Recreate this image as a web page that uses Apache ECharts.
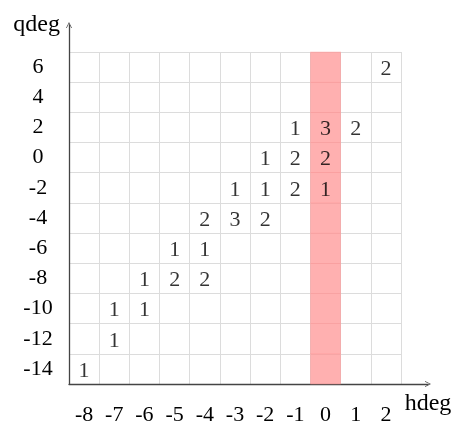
<!DOCTYPE html>
<html>
<head>
<meta charset="utf-8">
<script src="https://cdn.jsdelivr.net/npm/echarts@6/dist/echarts.min.js"></script>
<style>html,body{margin:0;padding:0;background:#fff}#c{width:460px;height:427px}</style>
</head>
<body>
<div id="c"></div>
<script>
var xCategories = ['-8','-7','-6','-5','-4','-3','-2','-1','0','1','2'];
var yCategories = ['-14','-12','-10','-8','-6','-4','-2','0','2','4','6'];
// [hdeg, qdeg, count]
var cellCounts = [
  ['2','6',2],
  ['-1','2',1],['0','2',3],['1','2',2],
  ['-2','0',1],['-1','0',2],['0','0',2],
  ['-3','-2',1],['-2','-2',1],['-1','-2',2],['0','-2',1],
  ['-4','-4',2],['-3','-4',3],['-2','-4',2],
  ['-5','-6',1],['-4','-6',1],
  ['-6','-8',1],['-5','-8',2],['-4','-8',2],
  ['-7','-10',1],['-6','-10',1],
  ['-7','-12',1],
  ['-8','-14',1]
];
var highlightColumn = '0';
var xName = 'hdeg';
var yName = 'qdeg';

var FONT = 'Liberation Serif';
var FS = 22;
var TXT = '#000';
var ARROW = 'path://M0,10 L5,0 L10,10 L8.8,10 L5,2.4 L1.2,10 Z';
var highlightCells = yCategories.map(function (y) { return [highlightColumn, y, 1]; });

var chart = echarts.init(document.getElementById('c'));
chart.setOption({
  animation: false,
  textStyle: { fontFamily: FONT },
  grid: [
    { left: 69, top: 52, right: 59, bottom: 43, containLabel: false },
    { left: 69, top: 25, right: 32, bottom: 43, containLabel: false }
  ],
  xAxis: [
    {
      gridIndex: 0, type: 'category', data: xCategories, boundaryGap: true,
      axisLine: { show: false }, axisTick: { show: false },
      axisLabel: { fontFamily: FONT, fontSize: FS, color: TXT, margin: 31, verticalAlign: 'middle' },
      splitLine: { show: true, lineStyle: { color: '#dcdcdc', width: 1 } }
    },
    {
      gridIndex: 1, type: 'value', min: 0, max: 1,
      axisLine: { show: true, lineStyle: { color: '#444', width: 1.3 },
        symbol: ['none', ARROW], symbolSize: [7, 6] },
      axisTick: { show: false }, axisLabel: { show: false }, splitLine: { show: false },
      name: xName, nameLocation: 'end', nameGap: 0,
      nameTextStyle: { fontFamily: FONT, fontSize: 24, color: TXT, align: 'center', verticalAlign: 'top', padding: [8, 0, 0, 0] }
    }
  ],
  yAxis: [
    {
      gridIndex: 0, type: 'category', data: yCategories, boundaryGap: true,
      axisLine: { show: false }, axisTick: { show: false },
      axisLabel: { fontFamily: FONT, fontSize: FS, color: TXT, margin: 31, align: 'center', padding: [6, 0, 0, 0] },
      splitLine: { show: true, lineStyle: { color: '#dcdcdc', width: 1 } }
    },
    {
      gridIndex: 1, type: 'value', min: 0, max: 1,
      axisLine: { show: true, lineStyle: { color: '#444', width: 1.3 },
        symbol: ['none', ARROW], symbolSize: [7, 6] },
      axisTick: { show: false }, axisLabel: { show: false }, splitLine: { show: false },
      name: yName, nameLocation: 'end', nameGap: 0,
      nameTextStyle: { fontFamily: FONT, fontSize: 24, color: TXT, align: 'right', verticalAlign: 'middle', padding: [0, 9, 0, 0] }
    }
  ],
  series: [
    {
      type: 'heatmap', xAxisIndex: 0, yAxisIndex: 0,
      data: highlightCells,
      itemStyle: { color: 'rgba(255,150,150,0.75)', borderWidth: 0 },
      label: { show: false },
      emphasis: { disabled: true },
      z: 1
    },
    {
      type: 'scatter', xAxisIndex: 0, yAxisIndex: 0,
      data: cellCounts,
      symbolSize: 1,
      itemStyle: { color: 'rgba(0,0,0,0)' },
      label: {
        show: true, position: 'inside', fontFamily: FONT, fontSize: FS, color: TXT,
        offset: [0, 2],
        formatter: function (p) { return String(p.value[2]); }
      },
      z: 3
    }
  ]
});
</script>
</body>
</html>
